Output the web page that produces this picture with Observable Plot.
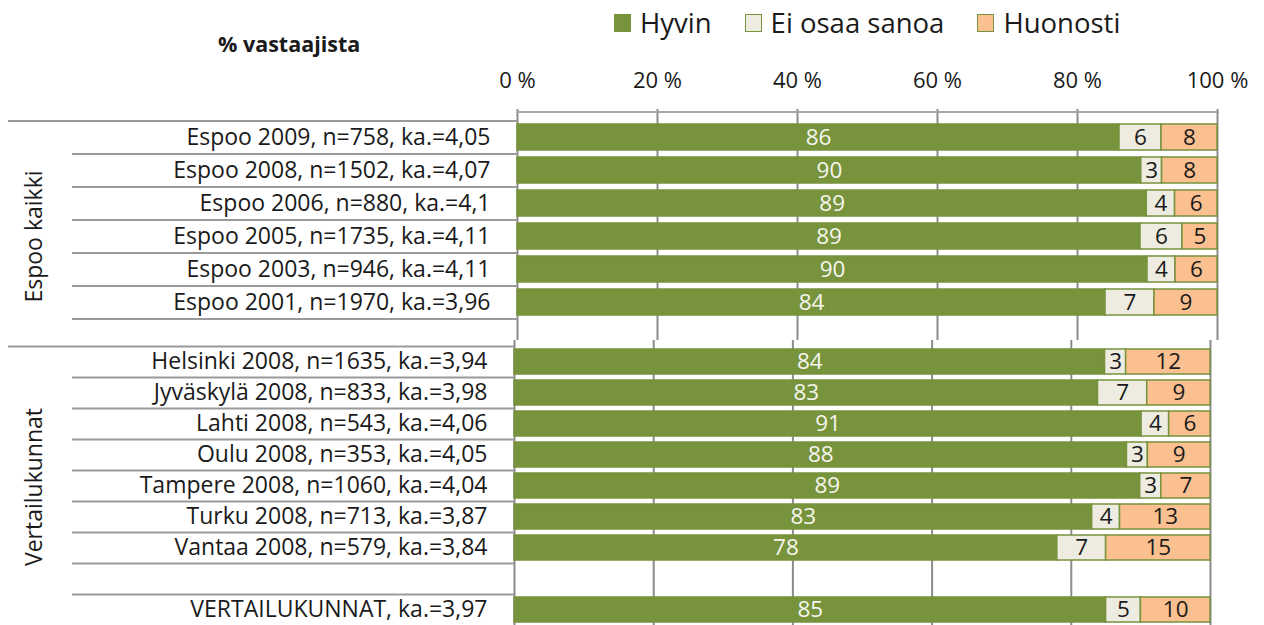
<!DOCTYPE html>
<html><head><meta charset="utf-8">
<script src="https://cdn.jsdelivr.net/npm/d3@7"></script>
<script src="https://cdn.jsdelivr.net/npm/@observablehq/plot@0.6"></script>
<style>
body{margin:0;background:#fff;font-family:"Open Sans",sans-serif;color:#1a1a1a;}
#wrap{position:relative;width:1264px;height:625px;overflow:hidden;background:#fff;}
#wrap svg{position:absolute;left:0;}
#legend{position:absolute;left:614px;top:0;height:45px;display:flex;align-items:center;z-index:2;font-size:27.5px;}
#legend .it{display:flex;align-items:center;margin-right:33px;}
#legend .sw{width:17px;height:18px;box-sizing:border-box;border:1.5px solid #77933C;margin-right:9px;}
#title{position:absolute;left:218px;top:29px;font-weight:700;font-size:21.5px;z-index:2;}
</style></head><body><div id="wrap"><div id="legend"></div><div id="title">% vastaajista</div></div>
<script>
const categories = ["Hyvin", "Ei osaa sanoa", "Huonosti"];
const colors = ["#77933C", "#EEECE1", "#FAC090"];
const xTicks = [0, 20, 40, 60, 80, 100];

const groupTop = "Espoo kaikki";
const rowsTop = ["Espoo 2009, n=758, ka.=4,05", "Espoo 2008, n=1502, ka.=4,07", "Espoo 2006, n=880, ka.=4,1",
  "Espoo 2005, n=1735, ka.=4,11", "Espoo 2003, n=946, ka.=4,11", "Espoo 2001, n=1970, ka.=3,96"];
const hyvinTop = [86, 90, 89, 89, 90, 84];
const eiTop = [6, 3, 4, 6, 4, 7];
const huonoTop = [8, 8, 6, 5, 6, 9];

const groupBottom = "Vertailukunnat";
const rowsBottom = ["Helsinki 2008, n=1635, ka.=3,94", "Jyväskylä 2008, n=833, ka.=3,98", "Lahti 2008, n=543, ka.=4,06",
  "Oulu 2008, n=353, ka.=4,05", "Tampere 2008, n=1060, ka.=4,04", "Turku 2008, n=713, ka.=3,87",
  "Vantaa 2008, n=579, ka.=3,84", "VERTAILUKUNNAT, ka.=3,97"];
const hyvinBottom = [84, 83, 91, 88, 89, 83, 78, 85];
const eiBottom = [3, 7, 4, 3, 3, 4, 7, 5];
const huonoBottom = [12, 9, 6, 9, 7, 13, 15, 10];

const grid = "#8c8c8c", sep = "#9a9a9a", dark = "#1a1a1a";
const wrap = document.getElementById("wrap");

// legend
const leg = document.getElementById("legend");
categories.forEach((c, i) => {
  const it = document.createElement("div"); it.className = "it";
  const sw = document.createElement("div"); sw.className = "sw"; sw.style.background = colors[i];
  const t = document.createElement("span"); t.textContent = c;
  it.append(sw, t); leg.append(it);
});

function table(rows, hyv, ei, huo) {
  const vals = [hyv, ei, huo];
  return rows.flatMap((r, i) => categories.map((c, j) => ({row: r, cat: c, value: vals[j][i]})));
}

function panel({data, domain, sepRows, height, marginTop, marginLeft, marginRight, yRange, step, group, groupDy, topAxis, top}) {
  const stackOpts = {x: "value", y: "row", z: "cat", order: categories, offset: "normalize"};
  const fr = xTicks.map(t => t / 100);
  const marks = [
    Plot.ruleX(fr, {stroke: grid, strokeWidth: 2}),
    Plot.barX(data, Plot.stackX({...stackOpts, fill: "cat", stroke: "#77933C", strokeWidth: 1.5})),
    Plot.text(data, Plot.stackX({...stackOpts, text: d => String(d.value), fill: d => d.cat === "Hyvin" ? "lblLight" : "lblDark", fontSize: 22.5})),
    Plot.axisY({tickSize: 0, tickPadding: 27, fontSize: 23, fill: dark, label: null}),
    Plot.axisY(sepRows, {tickSize: marginLeft - 72, text: null, dy: step / 2, stroke: sep, strokeWidth: 2, label: null}),
    Plot.axisY([domain[0]], {tickSize: marginLeft - 8, text: null, dy: -step / 2, stroke: sep, strokeWidth: 2, label: null}),
    Plot.text([group], {text: d => d, frameAnchor: "left", textAnchor: "middle", dx: 34 - marginLeft, dy: groupDy, rotate: -90, fontSize: 23, fill: dark})
  ];
  if (topAxis) {
    marks.push(Plot.axisX(fr, {anchor: "top", tickSize: 4, tickPadding: 21, tickFormat: d => `${Math.round(d * 100)} %`, stroke: grid, strokeWidth: 2, fill: dark, fontSize: 22, label: null}));
    marks.push(Plot.ruleY([domain[0]], {dy: -(step / 2 + 9), stroke: "#a6a6a6", strokeWidth: 2}));
  }
  const p = Plot.plot({
    width: 1264, height, marginTop, marginBottom: 0, marginLeft, marginRight,
    style: {fontFamily: "Open Sans", fontSize: "22px", background: "white", color: dark},
    x: {domain: [0, 1], axis: null, label: null},
    y: {type: "band", domain, range: yRange, paddingInner: 0.2, paddingOuter: 0.1, label: null},
    color: {domain: [...categories, "lblLight", "lblDark"], range: [...colors, "#f6f6ee", dark]},
    marks
  });
  p.style.top = top + "px";
  return p;
}

const topDomain = [...rowsTop, ""];
const bottomDomain = [...rowsBottom.slice(0, 7), "", rowsBottom[7]];

wrap.prepend(panel({
  data: table(rowsTop, hyvinTop, eiTop, huonoTop), domain: topDomain, sepRows: rowsTop,
  height: 340, marginTop: 112, marginLeft: 517, marginRight: 47, yRange: [121, 352], step: 33,
  group: groupTop, groupDy: 10, topAxis: true, top: 0
}));
wrap.append(panel({
  data: table(rowsBottom, hyvinBottom, eiBottom, huonoBottom), domain: bottomDomain, sepRows: bottomDomain.slice(0, 8),
  height: 285, marginTop: 0, marginLeft: 514, marginRight: 54, yRange: [6, 285], step: 31,
  group: groupBottom, groupDy: 4, topAxis: false, top: 340
}));
</script></body></html>
